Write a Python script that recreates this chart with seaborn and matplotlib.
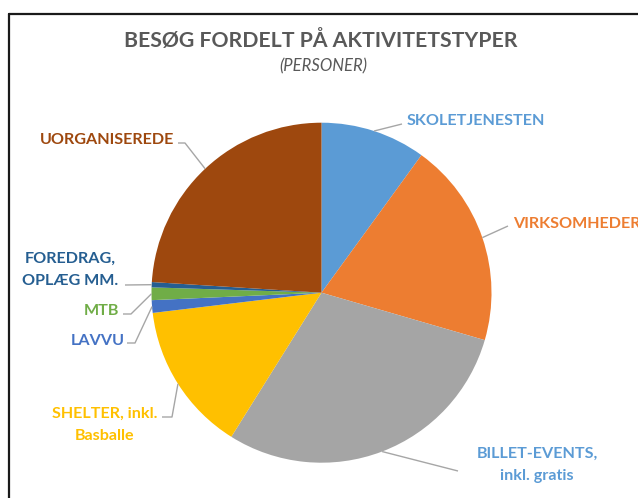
import numpy as np
import matplotlib
matplotlib.use("Agg")
import matplotlib.pyplot as plt
import seaborn as sns

# Data (andel i %)
kategorier = ['SKOLETJENESTEN', 'VIRKSOMHEDER', 'BILLET-EVENTS,\ninkl. gratis',
              'SHELTER, inkl.\nBasballe', 'LAVVU', 'MTB', 'FOREDRAG,\nOPLÆG MM.',
              'UORGANISEREDE']
andele = [10.0, 19.5, 29.4, 14.2, 1.2, 1.2, 0.5, 24.0]
farver = ['#5B9BD5', '#ED7D31', '#A5A5A5', '#FFC000', '#4472C4', '#70AD47',
          '#255E91', '#9E480E']
tekstfarver = ['#5B9BD5', '#ED7D31', '#5B9BD5', '#FFC000', '#4472C4', '#70AD47',
               '#255E91', '#9E480E']

sns.set_theme(style='white')
plt.rcParams['font.family'] = ['Lato', 'DejaVu Sans']

W, H = 638, 498
fig = plt.figure(figsize=(W / 100, H / 100), dpi=100)
ax = fig.add_axes([0, 0, 1, 1])

# Pixel -> data (centrum og radius i pixel)
cx, cy, R = 321.5, 292.7, 170.0


def px(x, y):
    return (x - cx) / R, (cy - y) / R


wedges, _ = ax.pie(andele, colors=farver, startangle=90, counterclock=False,
                   radius=1, wedgeprops=dict(linewidth=0))
ax.set_xlim(px(0, 0)[0], px(W, 0)[0])
ax.set_ylim(px(0, H)[1], px(0, 0)[1])
ax.set_aspect('auto')
ax.axis('off')

# Label-placering: (knækpunkter i pixel, tekstposition, justering)
layout = [
    ([(402, 124)], (407, 121), 'left'),
    ([(508, 226)], (513, 224), 'left'),
    ([(458, 471)], (537, 465), 'center'),
    ([(172, 417), (162, 417)], (105, 425), 'center'),
    ([(135, 343), (127, 343)], (98, 341), 'center'),
    ([(131, 314), (123, 314)], (101, 311), 'center'),
    ([(125, 285)], (70, 270), 'center'),
    ([(185, 143), (178, 143)], (107, 140), 'center'),
]

for w, lab, fc, (pts, tpos, ha) in zip(wedges, kategorier, tekstfarver, layout):
    mid = np.deg2rad((w.theta1 + w.theta2) / 2)
    x0, y0 = np.cos(mid), np.sin(mid)
    xs = [x0] + [px(*p)[0] for p in pts]
    ys = [y0] + [px(*p)[1] for p in pts]
    ax.plot(xs, ys, color='#A6A6A6', lw=1, solid_capstyle='butt')
    tx, ty = px(*tpos)
    ax.text(tx, ty, lab, color=fc, fontsize=11.6, fontweight='bold',
            ha=ha, va='center', linespacing=1.7)

fig.text(321 / W, 1 - 40 / H, 'BESØG FORDELT PÅ AKTIVITETSTYPER', ha='center',
         va='center', fontsize=15.3, fontweight='bold', color='#595959')
fig.text(323 / W, 1 - 66 / H, '(PERSONER)', ha='center', va='center',
         fontsize=12, style='italic', color='#595959')

# Ramme (kun øverste og venstre kant synlig)
fig.add_artist(plt.Line2D([9 / W, 1], [1 - 14 / H, 1 - 14 / H], color='#1a1a1a',
                          lw=1.6, transform=fig.transFigure))
fig.add_artist(plt.Line2D([9 / W, 9 / W], [0, 1 - 14 / H], color='#1a1a1a',
                          lw=1.6, transform=fig.transFigure))

fig.savefig('out.png', dpi=100)
